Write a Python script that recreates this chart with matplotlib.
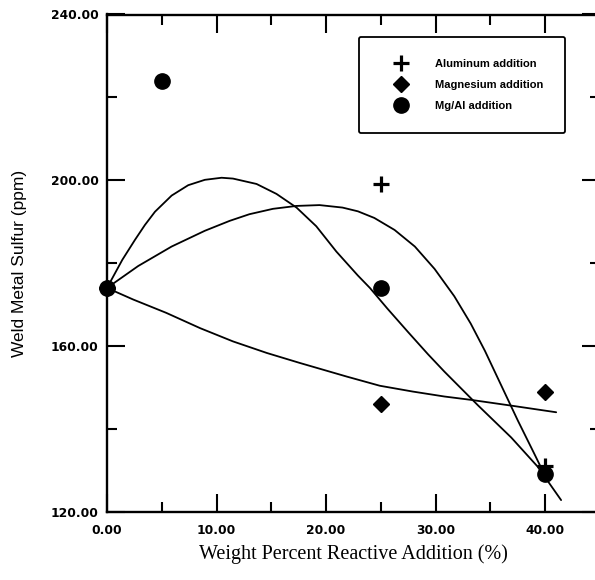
import matplotlib
matplotlib.use("Agg")
import matplotlib.pyplot as plt
from matplotlib.ticker import MultipleLocator, FormatStrFormatter
from matplotlib.font_manager import FontProperties

# ---- data ----
al_x = [0, 25, 40]
al_y = [174, 199, 131]
mg_x = [0, 25, 40]
mg_y = [174, 146, 149]
mgal_x = [0, 5, 25, 40]
mgal_y = [174, 224, 174, 129]

# fitted curves
curveA_x = [0, 1.4, 2.55, 3.46, 4.38, 5.9, 7.41, 8.93, 10.46, 11.5, 13.65, 15.47,
            17.3, 19.1, 20.93, 22.9, 24.0, 25.6, 27.5, 29.3, 30.8, 33.85, 36.9,
            39.3, 41.45]
curveA_y = [174, 180.8, 185.6, 189.2, 192.4, 196.3, 198.8, 200.1, 200.6, 200.4,
            199.1, 196.7, 193.4, 188.9, 182.8, 177.0, 174.0, 169.0, 163.3, 158.0,
            153.8, 145.7, 137.9, 130.9, 122.8]
curveB_x = [0, 2.85, 5.9, 8.93, 11.2, 13.0, 15.15, 17.3, 19.4, 21.5, 22.9, 24.4,
            26.25, 28.1, 29.9, 31.7, 33.2, 34.5, 36.0, 37.5, 39.0, 40.0]
curveB_y = [174, 179.3, 184.0, 187.8, 190.2, 191.8, 193.1, 193.8, 194.0, 193.4,
            192.5, 190.9, 188.0, 184.0, 178.6, 172.0, 165.4, 158.8, 150.4, 142.0,
            134.0, 128.6]
curveC_x = [0, 2.4, 5.4, 8.5, 11.5, 14.6, 17.6, 21.9, 24.9, 27.9, 30.8, 33.2,
            36.9, 41.0]
curveC_y = [174, 171.2, 168.0, 164.3, 161.1, 158.3, 155.9, 152.6, 150.4, 149.0,
            147.8, 147.0, 145.6, 144.0]

legend_labels = ["Aluminum addition", "Magnesium addition", "Mg/Al addition"]
x_label = "Weight Percent Reactive Addition (%)"
y_label = "Weld Metal Sulfur (ppm)"

# ---- figure ----
W, H = 595, 580
fig = plt.figure(figsize=(W / 100, H / 100), dpi=100)
ax = fig.add_axes([107 / W, (H - 511.7) / H, 493 / W, 497.2 / H])
ax.set_xlim(0, 45)
ax.set_ylim(120, 240)

for cx, cy in [(curveA_x, curveA_y), (curveB_x, curveB_y), (curveC_x, curveC_y)]:
    ax.plot(cx, cy, color="black", lw=1.3, solid_joinstyle="round",
            solid_capstyle="round", zorder=2)

h_al, = ax.plot(al_x, al_y, ls="none", marker="+", ms=12, mew=2.3, color="black",
                clip_on=False, zorder=3)
h_mg, = ax.plot(mg_x, mg_y, ls="none", marker="D", ms=8, color="black",
                clip_on=False, zorder=4)
h_mgal, = ax.plot(mgal_x, mgal_y, ls="none", marker="o", ms=11, color="black",
                  clip_on=False, zorder=5)

# ticks
ax.xaxis.set_major_locator(MultipleLocator(10))
ax.xaxis.set_minor_locator(MultipleLocator(5))
ax.yaxis.set_major_locator(MultipleLocator(40))
ax.yaxis.set_minor_locator(MultipleLocator(20))
ax.xaxis.set_major_formatter(FormatStrFormatter("%.2f"))
ax.yaxis.set_major_formatter(FormatStrFormatter("%.2f"))
ax.tick_params(which="major", direction="in", length=13, width=1.5,
               top=True, right=True)
ax.tick_params(which="minor", direction="in", length=7, width=1.5,
               top=True, right=True)
ax.tick_params(axis="x", which="major", pad=9)
ax.tick_params(axis="y", which="major", pad=6)
for lab in ax.get_xticklabels() + ax.get_yticklabels():
    lab.set_fontfamily("DejaVu Sans")
    lab.set_fontweight("bold")
    lab.set_fontsize(8.8)

for s in ax.spines.values():
    s.set_linewidth(1.7)

ax.set_xlabel(x_label, family="Liberation Serif", fontsize=14.5)
ax.xaxis.set_label_coords(0.5, -0.065)
ax.set_ylabel(y_label, family="Liberation Sans", fontsize=12.5)
ax.yaxis.set_label_coords(-0.162, 0.5)

leg = ax.legend([h_al, h_mg, h_mgal], legend_labels, loc="upper left",
                bbox_to_anchor=(359 / W, 1 - 37 / H), bbox_transform=fig.transFigure,
                borderaxespad=0, borderpad=2.0, handlelength=3.5, handletextpad=1.3,
                labelspacing=0.96,
                prop=FontProperties(family="Liberation Sans", weight="bold", size=8),
                frameon=True, fancybox=True, framealpha=1, edgecolor="black")
leg.get_frame().set_linewidth(1.3)

fig.savefig("out.png", dpi=100)
